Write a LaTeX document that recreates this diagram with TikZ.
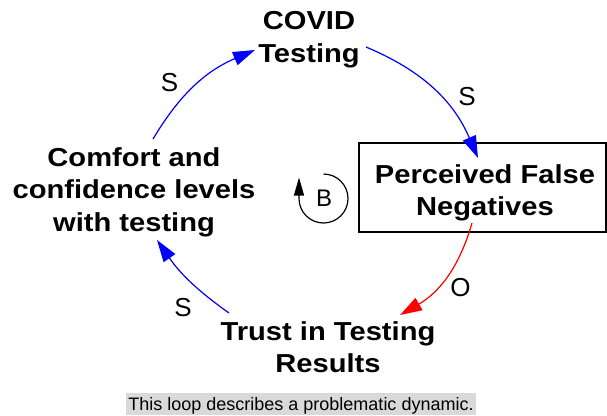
\documentclass[tikz,border=0pt]{standalone}
\usepackage{fontspec}
\setmainfont{Liberation Sans}
\newfontfamily\varfont[FakeStretch=1.12]{Liberation Sans}
\usetikzlibrary{arrows.meta}
\definecolor{capgray}{RGB}{217,217,217}
\begin{document}
\begin{tikzpicture}[x=1pt,y=1pt,
  var/.style={font=\varfont\bfseries\fontsize{26}{32.5}\selectfont, align=center, inner sep=0pt},
  pol/.style={font=\fontsize{26}{30}\selectfont, inner sep=0pt},
  link/.style={line width=1.2pt, -{Triangle[length=22pt,width=14pt]}},
  plus/.style={link, blue},
  minus/.style={link, red}]
\useasboundingbox (0,0) rectangle (607,-415);

% variables of the loop
\node[var] (covid) at (309,-39.8) {COVID\\Testing};
\node[var] (pfn) at (485,-193) {Perceived False\\Negatives};
\draw[line width=2.3pt] ([shift={(-126,50)}]pfn.center) rectangle ([shift={(121,-39)}]pfn.center);
\node[var] (comfort) at (134,-192) {Comfort and\\confidence levels\\with testing};
\node[var] (trust) at (328,-347) {Trust in Testing\\Results};

% causal links
\draw[plus] ([shift={(19,53)}]comfort.center) to[bend left=18]
  ([shift={(-54,-10.2)}]covid.center);
\draw[plus] ([shift={(57,-7.2)}]covid.center) to[bend left=22]
  ([shift={(-7,35)}]pfn.center);
\draw[minus] ([shift={(-13,-30)}]pfn.center) to[bend left=22]
  ([shift={(72,32)}]trust.center);
\draw[plus] ([shift={(-99,34)}]trust.center) to[bend left=10]
  ([shift={(23,-48)}]comfort.center);

% link polarities
\node[pol] (s1) at (169.5,-83) {S};
\node[pol] (s2) at (467,-96.5) {S};
\node[pol] (o3) at (460.5,-287.5) {O};
\node[pol] (s4) at (183,-307.5) {S};

% balancing loop marker
\node[pol, font=\fontsize{24}{28}\selectfont] (bl) at (324,-198) {B};
\draw[line width=1.2pt, -{Triangle[length=18pt,width=10pt]}]
  ([shift={(-0.5,24)}]bl.center) arc[start angle=90, end angle=-180, radius=24.5]
  -- ++(0,21);

% caption
\node[anchor=base, fill=capgray, font=\fontsize{18}{22}\selectfont,
  inner xsep=2pt, inner ysep=0pt, text height=17.5pt, text depth=4.5pt]
  (cap) at (301,-410.5) {This loop describes a problematic dynamic.};
\end{tikzpicture}
\end{document}
